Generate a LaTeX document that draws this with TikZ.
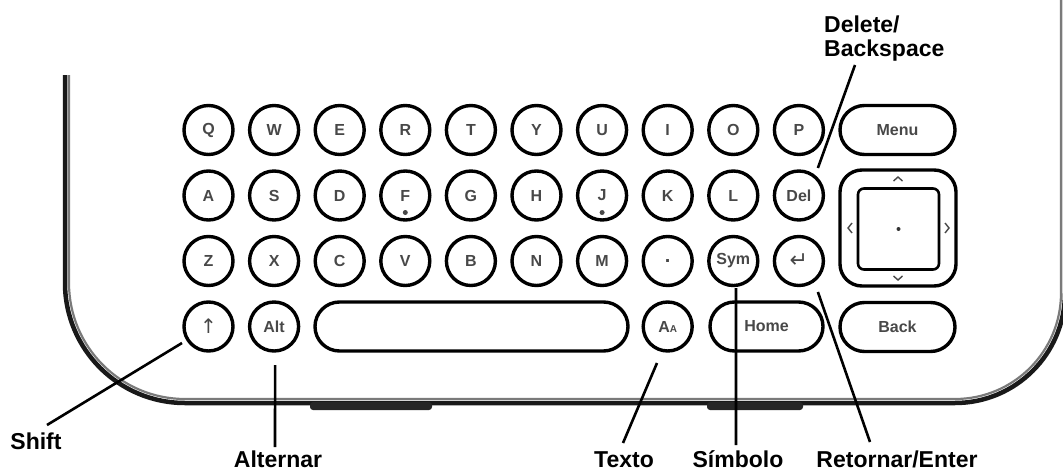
\documentclass[tikz,border=0pt]{standalone}
\usepackage{fontspec}
\setmainfont{Liberation Sans}
\newfontfamily\symfont{DejaVu Sans}
\usetikzlibrary{calc}
\definecolor{keygray}{HTML}{484848}
\definecolor{rimgray}{HTML}{7A7A7A}
\begin{document}
\begin{tikzpicture}[x=1pt,y=-1pt,
  key/.style={circle,draw=black,line width=3.4pt,minimum size=49pt,inner sep=0pt,
    font=\bfseries\fontsize{16}{16}\selectfont,text=keygray},
  pill/.style={rectangle,rounded corners=24.5pt,draw=black,line width=3.4pt,
    minimum height=49pt,minimum width=114pt,inner sep=0pt,
    font=\bfseries\fontsize{16}{16}\selectfont,text=keygray},
  lbl/.style={font=\bfseries\fontsize{23}{23}\selectfont,inner sep=0pt,anchor=base},
  leader/.style={line width=2.6pt,draw=black},
  chev/.style={line width=1.4pt,draw=keygray}]
\useasboundingbox (0,0) rectangle (1063,471);
\begin{scope}
\clip (0,0) rectangle (1063,471);
% device outline
\draw[line width=4.5pt,black!90] (65,75) [rounded corners=120pt] -- (65,403) [rounded corners=110pt] -- (1065,403) -- (1065,0);
\draw[line width=2.2pt,rimgray] (69,75) [rounded corners=116pt] -- (69,399) [rounded corners=106pt] -- (1061,399) -- (1061,0);
\fill[black!85,rounded corners=3pt] (310,402) rectangle (432,410);
\fill[black!85,rounded corners=3pt] (707,402) rectangle (803,410);
\end{scope}
% keys
\foreach \l [count=\i from 0] in {Q,W,E,R,T,Y,U,I,O,P}
  \node[key] (k\l) at ({208.5+65.6*\i},130) {\l};
\foreach \l [count=\i from 0] in {A,S,D,F,G,H,J,K,L}
  \node[key] (k\l) at ({208.5+65.6*\i},195.5) {\l};
\foreach \l [count=\i from 0] in {Z,X,C,V,B,N,M}
  \node[key] (k\l) at ({208.5+65.6*\i},261) {\l};
\node[key] (kDel) at ({208.5+65.6*9},195.5) {Del};
\node[key] (kdot) at ({208.5+65.6*7},261) {\fontsize{20}{20}\selectfont .};
\node[key] (kSym) at ({208.5+65.6*8},261) {Sym};
\node[key] (kEnter) at ({208.5+65.6*9},261) {\symfont\mdseries\fontsize{22}{22}\selectfont ↵};
\node[key] (kShift) at (208.5,326.5) {\symfont\mdseries\fontsize{20}{20}\selectfont ↑};
\node[key] (kAlt) at (274.1,326.5) {Alt};
\node[pill,minimum width=313pt] (kSpace) at (471.5,326.5) {};
\node[key] (kAa) at ({208.5+65.6*7},326.5) {A\fontsize{10}{10}\selectfont A};
\node[pill,minimum width=113pt] (kHome) at (766.5,326.5) {Home};
\node[pill,minimum width=115pt] (kMenu) at (897.5,130) {Menu};
\node[pill,minimum width=115pt] (kBack) at (897.5,327) {Back};
% home-row bumps
\fill[keygray] ($(kF)+(0,17)$) circle (2.5pt);
\fill[keygray] ($(kJ)+(0,17)$) circle (2.5pt);
% d-pad
\node[rectangle,rounded corners=22pt,draw=black,line width=3.4pt,minimum size=116pt,inner sep=0pt] (dpad) at (898,228) {};
\node[rectangle,rounded corners=6pt,draw=black,line width=2.6pt,minimum size=81pt,inner sep=0pt] (dinner) at (898.5,229) {};
\fill[black!80] (dinner.center) circle (2pt);
\draw[chev] ($(dpad)+(-4.5,-47)$) -- ($(dpad)+(0,-51)$) -- ($(dpad)+(4.5,-47)$);
\draw[chev] ($(dpad)+(-4.5,48)$) -- ($(dpad)+(0,52)$) -- ($(dpad)+(4.5,48)$);
\draw[chev] ($(dpad)+(-46,-5)$) -- ($(dpad)+(-50,0)$) -- ($(dpad)+(-46,5)$);
\draw[chev] ($(dpad)+(47,-5)$) -- ($(dpad)+(51,0)$) -- ($(dpad)+(47,5)$);
% labels
\node[lbl] (lShift) at (36,449) {Shift};
\node[lbl] (lAlt) at (278,467) {Alternar};
\node[lbl] (lTexto) at (624,467) {Texto};
\node[lbl] (lSym) at (738,467) {Símbolo};
\node[lbl] (lEnter) at (897,467) {Retornar/Enter};
\node[lbl,anchor=base west] (lDel1) at (824,32) {Delete/};
\node[lbl,anchor=base west] (lDel2) at (824,56) {Backspace};
% leader lines
\coordinate (sShift) at ($(kShift)+(-26.5,16.5)$);
\coordinate (eShift) at (47,425);
\coordinate (sAlt) at ($(kAlt)+(1,38.5)$);
\coordinate (eAlt) at (275,447);
\coordinate (sAa) at ($(kAa)+(-10.7,36.5)$);
\coordinate (eAa) at (623,443);
\coordinate (sSym) at ($(kSym)+(2.7,27)$);
\coordinate (eSym) at (736,445);
\coordinate (sEnter) at ($(kEnter)+(19,31)$);
\coordinate (eEnter) at (870,442);
\coordinate (sDel) at ($(kDel)+(19,-27.5)$);
\coordinate (eDel) at (855,65);
\draw[leader] (sShift) -- (eShift);
\draw[leader] (sAlt) -- (eAlt);
\draw[leader] (sAa) -- (eAa);
\draw[leader] (sSym) -- (eSym);
\draw[leader] (sEnter) -- (eEnter);
\draw[leader] (sDel) -- (eDel);
\end{tikzpicture}
\end{document}
